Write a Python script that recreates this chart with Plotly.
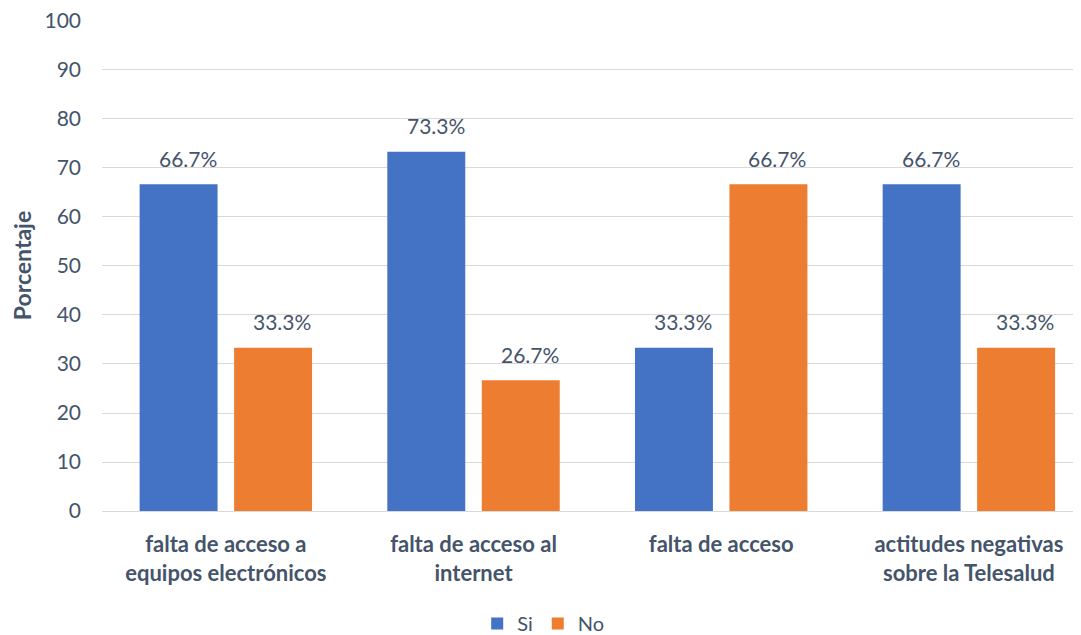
import plotly.graph_objects as go

categories = ["falta de acceso a<br>equipos electrónicos",
              "falta de acceso al<br>internet",
              "falta de acceso",
              "actitudes negativas<br>sobre la Telesalud"]
si_values = [66.7, 73.3, 33.3, 66.7]
no_values = [33.3, 26.7, 66.7, 33.3]
y_ticks = [0, 10, 20, 30, 40, 50, 60, 70, 80, 90, 100]

FONT = "Lato"
TXT = "#44546A"
BLUE = "#4472C4"
ORANGE = "#ED7D31"

fig = go.Figure()
fig.add_trace(go.Bar(name="Si", x=categories, y=si_values,
                     marker=dict(color=BLUE, line=dict(width=0))))
fig.add_trace(go.Bar(name="No", x=categories, y=no_values,
                     marker=dict(color=ORANGE, line=dict(width=0))))

annotations = []
for vals, shift in ((si_values, -47), (no_values, 47)):
    for c, v in zip(categories, vals):
        annotations.append(dict(x=c, y=v, xref="x", yref="y", text=f"{v:.1f}%",
                                showarrow=False, xshift=shift + 9, yshift=26,
                                font=dict(family=FONT, size=21, color=TXT)))

fig.update_layout(
    width=1081, height=635,
    margin=dict(l=94, r=0, t=12, b=132),
    paper_bgcolor="white", plot_bgcolor="white",
    barmode="group", bargap=0.237, bargroupgap=0.175,
    font=dict(family=FONT, color=TXT, size=20),
    showlegend=True,
    legend=dict(orientation="h", x=0.447, xanchor="center", y=-0.229, yanchor="middle",
                font=dict(family=FONT, size=20, color=TXT), itemwidth=30,
                traceorder="normal"),
    annotations=annotations,
    xaxis=dict(range=[-0.5, 3.485], showgrid=False, showline=False, zeroline=False,
               tickfont=dict(family=FONT, size=22, color=TXT, weight="bold"),
               ticklabelstandoff=18),
    yaxis=dict(range=[0, 100.2], tickvals=y_ticks, showgrid=True, gridcolor="#D9D9D9",
               gridwidth=1, zeroline=True, zerolinecolor="#D9D9D9", zerolinewidth=1,
               showline=False, ticks="", ticklabelstandoff=20, ticklabeloverflow="allow",
               tickfont=dict(family=FONT, size=21, color=TXT),
               title=dict(text="Porcentaje", standoff=20,
                          font=dict(family=FONT, size=23, color=TXT, weight="bold"))),
)

fig.write_html("out.html")
